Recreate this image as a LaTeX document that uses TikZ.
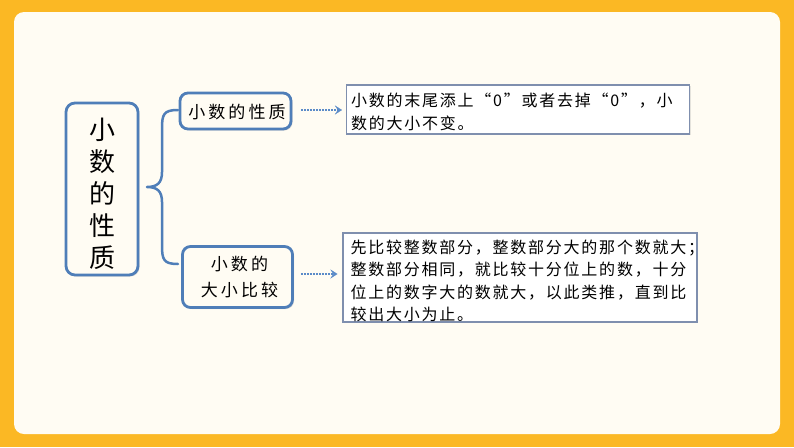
\documentclass[tikz,border=0pt]{standalone}
\usepackage{fontspec}
\newfontfamily\cjk{Noto Sans CJK SC}
\newfontfamily\cjksp[LetterSpace=11]{Noto Sans CJK SC}
\newfontfamily\cjkwide[LetterSpace=18]{Noto Sans CJK SC}
\usetikzlibrary{arrows.meta,shadows}
\definecolor{frameor}{HTML}{FBB824}
\definecolor{cream}{HTML}{FFFCF3}
\definecolor{boxblue}{HTML}{4F7EB8}
\definecolor{thinblue}{HTML}{7F8FAE}
\definecolor{arrblue}{HTML}{5B8BC8}
\tikzset{
  mainbox/.style={draw=boxblue, line width=2.8pt, rounded corners=9pt, fill=cream,
    drop shadow={shadow xshift=1.5pt, shadow yshift=-1.5pt, opacity=0.25}},
  subbox/.style={draw=boxblue, line width=2.8pt, rounded corners=8pt, fill=cream,
    drop shadow={shadow xshift=1.5pt, shadow yshift=-1.5pt, opacity=0.25}},
  textbox/.style={draw=thinblue, line width=1.2pt, fill=white,
    drop shadow={shadow xshift=1pt, shadow yshift=-1pt, opacity=0.2}},
  dotarrow/.style={draw=arrblue, line width=1.8pt, dash pattern=on 1.6pt off 1.4pt,
    -{Stealth[length=7pt,width=9pt,inset=3pt,line width=0.1pt,fill=arrblue,sep=0pt]}},
  bracestyle/.style={draw=boxblue, line width=2.5pt, line cap=round, line join=round},
}
\begin{document}
\begin{tikzpicture}[x=1pt,y=-1pt]
\useasboundingbox (0,0) rectangle (794,447);
\fill[frameor] (0,0) rectangle (794,447);
\fill[cream] (14,12) [rounded corners=10pt] rectangle (780,434);
% main box
\node[mainbox, minimum width=72pt, minimum height=172pt] (main) at (102,189) {};
\node[align=center, font=\cjk\fontsize{26}{32}\selectfont, inner sep=0pt] (maintext) at (102,194) {小\\数\\的\\性\\质};
% brace
\draw[bracestyle] (178,110) .. controls (164,110) and (162,114) .. (162,128) -- (162,172)
  .. controls (162,183) and (157,187) .. (147,187)
  .. controls (157,187) and (162,191) .. (162,202) -- (162,246)
  .. controls (162,260) and (164,264) .. (178,264);
% sub boxes
\node[subbox, minimum width=111pt, minimum height=36pt] (prop) at (235.5,111) {};
\node[font=\cjkwide\fontsize{17}{26}\selectfont, inner sep=0pt] (proptext) at (237,112) {小数的性质};
\node[subbox, minimum width=110pt, minimum height=61pt] (cmp) at (237.5,277) {};
\node[align=center, font=\cjkwide\fontsize{17}{26}\selectfont, inner sep=0pt] (cmptext) at (239.5,277) {小数的\\大小比较};
% text boxes
\node[textbox, minimum width=343pt, minimum height=49pt] (rule1) at (518,109.5) {};
\node[anchor=north west, align=left, inner sep=0pt, font=\cjksp\fontsize{16}{23}\selectfont] (rule1text)
  at ([xshift=5pt,yshift=-8pt]rule1.north west) {小数的末尾添上“0”或者去掉“0”，小\\数的大小不变。};
\node[textbox, minimum width=354pt, minimum height=89pt] (rule2) at (520,277.5) {};
\node[anchor=north west, align=left, inner sep=0pt, font=\cjksp\fontsize{16}{22.5}\selectfont] (rule2text)
  at ([xshift=8pt,yshift=-7pt]rule2.north west) {先比较整数部分，整数部分大的那个数就大；\\整数部分相同，就比较十分位上的数，十分\\位上的数字大的数就大，以此类推，直到比\\较出大小为止。};
% arrows
\draw[dotarrow, shorten <=9pt, shorten >=4pt] (prop.east |- 0,110) -- (rule1.west |- 0,110);
\draw[dotarrow, shorten <=7pt, shorten >=5pt] (cmp.east |- 0,274) -- (rule2.west |- 0,274);
\end{tikzpicture}
\end{document}
